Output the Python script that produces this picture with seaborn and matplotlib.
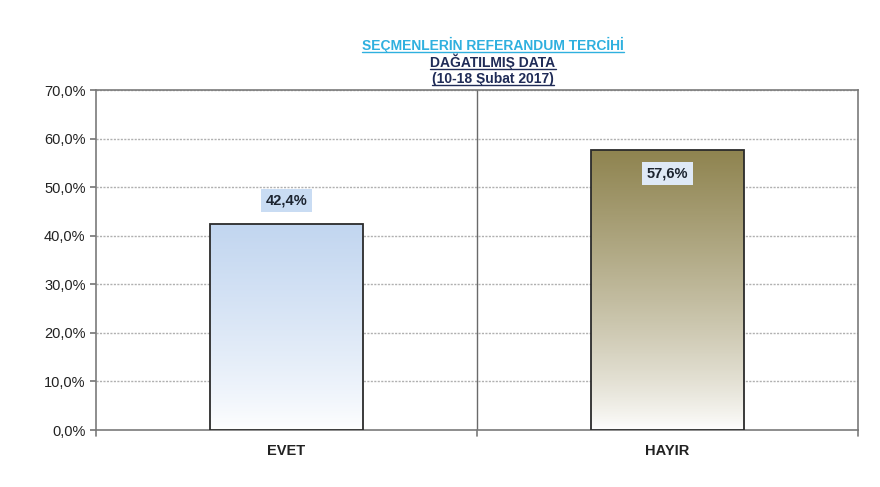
import numpy as np
import pandas as pd
import matplotlib
matplotlib.use("Agg")
import matplotlib.pyplot as plt
from matplotlib.colors import LinearSegmentedColormap
from matplotlib.lines import Line2D
import seaborn as sns

# Data
categories = ["EVET", "HAYIR"]
shares = [42.4, 57.6]
bar_labels = ["42,4%", "57,6%"]
top_colors = ["#c2d6f0", "#8f8450"]
yticks = [0, 10, 20, 30, 40, 50, 60, 70]

sns.set_theme(style="white")
plt.rcParams['font.family'] = ['Liberation Sans', 'DejaVu Sans']

df = pd.DataFrame({"cat": categories, "val": shares})

fig = plt.figure(figsize=(8.8, 4.87), dpi=100)
ax = fig.add_axes([96 / 880, 57 / 487, 762 / 880, 340 / 487])

sns.barplot(data=df, x="cat", y="val", ax=ax, width=0.4,
            color="white", edgecolor="#2b2b2b", linewidth=1.3, zorder=3)

ax.set_ylim(0, 70)
ax.set_xlim(-0.5, 1.5)

# gradient fill, clipped to each bar
for patch, col in zip(ax.patches, top_colors):
    x0, y0 = patch.get_x(), patch.get_y()
    w, h = patch.get_width(), patch.get_height()
    cmap = LinearSegmentedColormap.from_list("g", ["white", col])
    grad = (np.linspace(0, 1, 256) ** 0.8).reshape(-1, 1)
    im = ax.imshow(grad, cmap=cmap, origin="lower", aspect="auto", vmin=0, vmax=1,
                   extent=[x0, x0 + w, y0, y0 + h], zorder=3.5)
    im.set_clip_path(patch)
    patch.set_facecolor("none")
    patch.set_zorder(4)

# grid and separators
for t in yticks[1:]:
    ax.axhline(t, color="#b0b0b0", lw=1, ls=(0, (1.5, 1)), zorder=1)
ax.axvline(0.5, color="#6a6a6a", lw=1, zorder=1)
for s in ax.spines.values():
    s.set_color("#7a7a7a")
    s.set_linewidth(1.2)

ax.set_yticks(yticks)
ax.set_yticklabels([f"{t:.1f}%".replace(".", ",") for t in yticks], fontsize=10.5, color="#222222")
ax.set_xticks([0, 1])
ax.set_xticklabels(categories, fontsize=10.5, fontweight="bold", color="#222222")
ax.tick_params(axis="x", length=0, pad=10)
ax.tick_params(axis="y", length=4, color="#7a7a7a", left=True)
for xb in [-0.5, 0.5, 1.5]:
    ax.plot([xb, xb], [0, -1.2], color="#7a7a7a", lw=1.2, clip_on=False)
ax.set_xlabel("")
ax.set_ylabel("")

# value labels
ax.text(0, 47.3, bar_labels[0], ha="center", va="center", fontsize=10.5, fontweight="bold",
        color="#1c2430", zorder=6,
        bbox=dict(boxstyle="square,pad=0.3", fc="#c9dcf3", ec="none"))
ax.text(1, 52.8, bar_labels[1], ha="center", va="center", fontsize=10.5, fontweight="bold",
        color="#1c2430", zorder=6,
        bbox=dict(boxstyle="square,pad=0.3", fc="#dfe9f6", ec="none"))

# title lines
titles = [("SEÇMENLERİN REFERANDUM TERCİHİ", "#2fb0df", 1 - 45 / 487),
          ("DAĞATILMIŞ DATA", "#1f2b57", 1 - 62 / 487),
          ("(10-18 Şubat 2017)", "#1f2b57", 1 - 79 / 487)]
txts = []
for s, c, y in titles:
    txts.append((fig.text(493 / 880, y, s, ha="center", va="center", fontsize=10,
                          fontweight="bold", color=c), c))

fig.canvas.draw()
r = fig.canvas.get_renderer()
for t, c in txts:
    bb = t.get_window_extent(r).transformed(fig.transFigure.inverted())
    fig.add_artist(Line2D([bb.x0, bb.x1], [bb.y0 + 0.002, bb.y0 + 0.002],
                          transform=fig.transFigure, color=c, lw=1))

fig.savefig("out.png", dpi=100)
